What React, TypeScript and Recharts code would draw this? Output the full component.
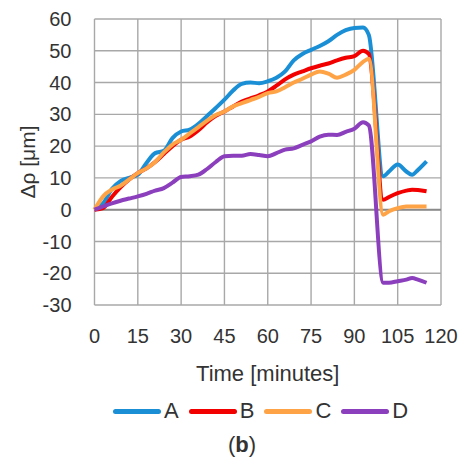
import React from 'react';
import {
  LineChart,
  Line,
  XAxis,
  YAxis,
  CartesianGrid,
  ReferenceLine,
  Legend,
} from 'recharts';

// minutes
const times = [
  0, 3, 6, 9, 12, 15, 18, 21, 24, 27, 30, 33, 36, 39, 42, 45, 48, 51, 54, 57, 60,
  63, 66, 69, 72, 75, 78, 81, 84, 87, 90, 93, 95, 100, 102, 105, 108, 110, 112, 115,
];

const seriesA = [
  0, 2, 6.5, 9, 10, 11, 14.7, 17.8, 18.5, 22.5, 24.6, 25.2, 27, 29.5, 32, 34.6, 37.5, 39.6, 40, 39.8, 40.4,
  41.5, 43.5, 47, 49, 50.3, 51.5, 53, 55, 56.5, 57.2, 57.3, 55, 10.5, 12, 14.2, 12, 11, 12.5, 15.2,
];
const seriesB = [
  0, 0.5, 4, 7, 9.5, 11.5, 13, 15, 17.5, 20, 22, 23, 25, 27.5, 29.5, 30.9, 32.5, 34, 35, 36, 37.2,
  39, 41, 42.5, 43.5, 44.5, 45.3, 46, 47, 47.8, 48.3, 50, 49, 3.1, 4, 5.2, 6, 6.3, 6.2, 5.8,
];
const seriesC = [
  0, 4.2, 6.3, 7.5, 9.5, 11.5, 13, 15, 18, 20.5, 22, 24, 26, 28, 29.8, 30.9, 32.5, 33.5, 34.5, 35.5, 36.7,
  37.2, 38.5, 40, 41.2, 42.5, 43.5, 42.8, 41.5, 42.5, 44, 46.5, 47.5, -1.6, -0.5, 0.5, 1, 1, 1, 1,
];
const seriesD = [
  0, 1, 2, 2.8, 3.5, 4.2, 5, 6, 6.8, 8.5, 10.3, 10.5, 11, 12.8, 15, 16.8, 17, 17, 17.5, 17.2, 16.8,
  17.8, 18.9, 19.3, 20.4, 21.5, 23, 23.6, 23.5, 24.5, 25.5, 27.5, 26.5, -23, -23, -22.5, -22, -21.5, -22, -23,
];

const xTicks = [0, 15, 30, 45, 60, 75, 90, 105, 120];
const yTicks = [-30, -20, -10, 0, 10, 20, 30, 40, 50, 60];

const seriesNames = ['A', 'B', 'C', 'D'];
const colors: Record<string, string> = {
  A: '#1a8fd6',
  B: '#f20000',
  C: '#ffa347',
  D: '#8c3fbd',
};

const data = times.map((t, i) => ({
  t,
  A: seriesA[i],
  B: seriesB[i],
  C: seriesC[i],
  D: seriesD[i],
}));

const FONT = '"Liberation Sans", Arial, sans-serif';

const YLabel = () => (
  <text
    x={27}
    y={162}
    transform="rotate(-90 27 162)"
    textAnchor="middle"
    dominantBaseline="central"
    fill="#333"
    fontSize={21}
    fontFamily={FONT}
  >
    Δρ [μm]
  </text>
);

const LegendBox = () => (
  <div style={{ position: 'relative', width: 459, height: 66, fontFamily: FONT }}>
    <div
      style={{
        position: 'absolute',
        left: 113,
        top: 4,
        display: 'flex',
        alignItems: 'center',
        height: 24,
      }}
    >
      {seriesNames.map((name) => (
        <div key={name} style={{ display: 'flex', alignItems: 'center', marginRight: 10 }}>
          <div
            style={{
              width: 48,
              height: 5,
              borderRadius: 3,
              background: colors[name],
              marginRight: 3,
            }}
          />
          <span style={{ fontSize: 22, color: '#333', lineHeight: '24px' }}>{name}</span>
        </div>
      ))}
    </div>
    <div
      style={{
        position: 'absolute',
        left: 0,
        width: 484,
        top: 37,
        textAlign: 'center',
        fontSize: 22,
        color: '#333',
      }}
    >
      (<b>b</b>)
    </div>
  </div>
);

export default function App() {
  return (
    <div
      style={{
        position: 'absolute',
        left: 0,
        top: 0,
        width: 459,
        height: 461,
        background: '#fff',
      }}
    >
      <LineChart
        width={459}
        height={461}
        data={data}
        margin={{ top: 19, right: 18, left: 0, bottom: 0 }}
      >
        <CartesianGrid stroke="#a8a8a8" strokeWidth={1.4} />
        <XAxis
          dataKey="t"
          type="number"
          domain={[0, 120]}
          ticks={xTicks}
          axisLine={false}
          tickLine={false}
          tickSize={0}
          tickMargin={24}
          height={90}
          tick={{ fill: '#333', fontSize: 20, fontFamily: FONT }}
          label={{
            value: 'Time [minutes]',
            position: 'insideBottom',
            offset: 14,
            fill: '#333',
            fontSize: 22,
            fontFamily: FONT,
          }}
        />
        <YAxis
          type="number"
          domain={[-30, 60]}
          ticks={yTicks}
          axisLine={false}
          tickLine={false}
          tickSize={0}
          tickMargin={23}
          width={94.5}
          tick={{ fill: '#333', fontSize: 20, fontFamily: FONT }}
          label={<YLabel />}
        />
        <ReferenceLine y={0} stroke="#8a8a8a" strokeWidth={2} />
        <Legend verticalAlign="bottom" height={66} content={<LegendBox />} />
        {seriesNames.map((name) => (
          <Line
            key={name}
            type="monotone"
            dataKey={name}
            stroke={colors[name]}
            strokeWidth={4}
            dot={false}
            activeDot={false}
            isAnimationActive={false}
          />
        ))}
      </LineChart>
    </div>
  );
}
